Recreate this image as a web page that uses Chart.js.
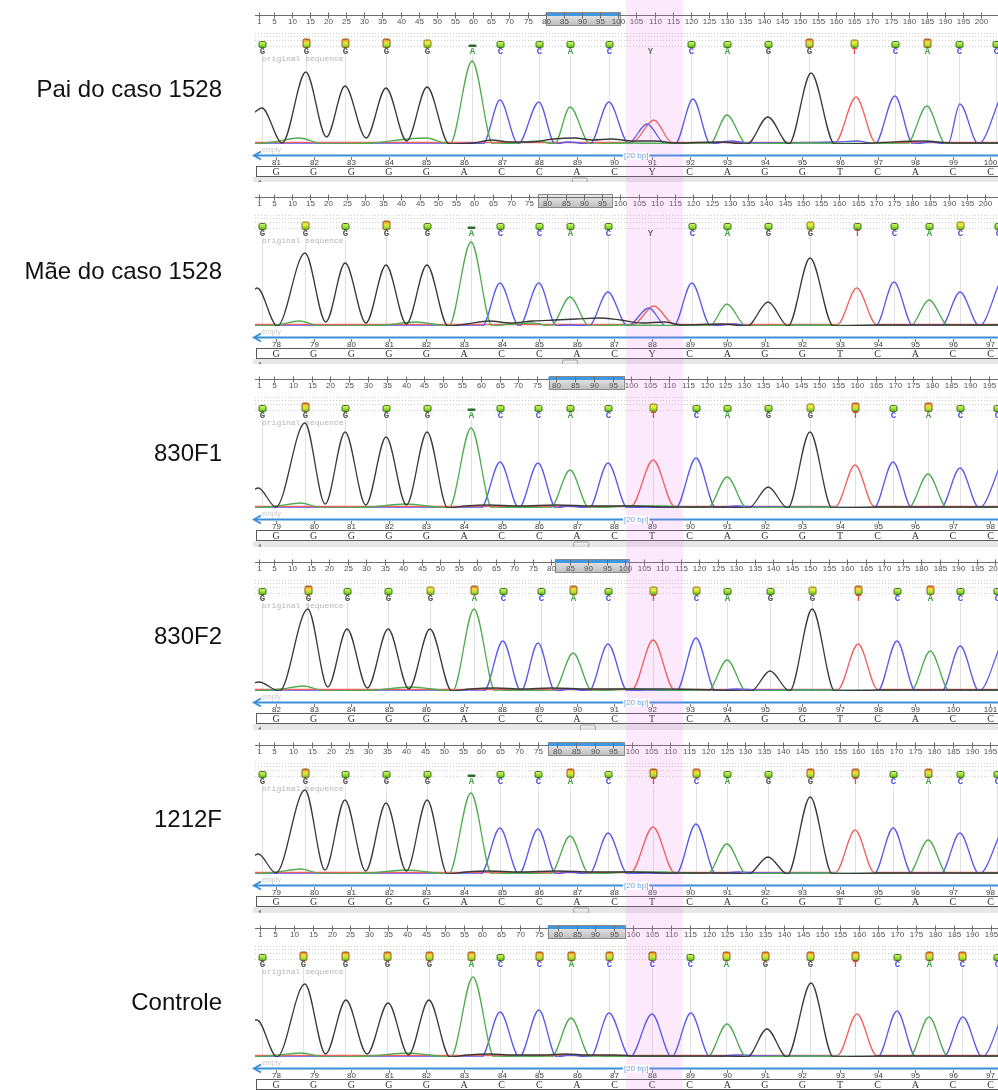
<!DOCTYPE html>
<html>
<head>
<meta charset="utf-8">
<script src="https://cdn.jsdelivr.net/npm/chart.js@4/dist/chart.umd.min.js"></script>
<style>
html,body{margin:0;padding:0;background:#fff;width:998px;height:1090px;overflow:hidden;}
.panel{position:absolute;left:0;width:998px;}
.panel canvas{position:absolute;left:0;top:0;}
.name{position:absolute;right:776px;top:89px;font:24px "Liberation Sans",Arial,sans-serif;color:#111;white-space:nowrap;transform:translateY(-50%);}
</style>
</head>
<body>
<div id="root"></div>
<script>
// ---- samples ----
const sampleNames = ['Pai do caso 1528', 'Mãe do caso 1528', '830F1', '830F2', '1212F', 'Controle'];

// base calls shown above the traces and in the aligned row below
const baseCalls = [
  'GGGGGACCACYCAGGTCACC',
  'GGGGGACCACYCAGGTCACC',
  'GGGGGACCACTCAGGTCACC',
  'GGGGGACCACTCAGGTCACC',
  'GGGGGACCACTCAGGTCACC',
  'GGGGGACCACCCAGGTCACC'
];

// trace position (ruler units) of each call
const callPos = [
  [1.8, 13.9, 24.7, 36.0, 47.3, 59.7, 67.4, 78.1, 86.7, 97.4, 108.7, 120.0, 129.9, 141.2, 152.5, 164.9, 176.2, 185.0, 193.8, 204.0],
  [1.8, 13.6, 24.6, 35.8, 47.0, 59.1, 67.0, 77.7, 86.2, 96.6, 108.1, 119.6, 129.2, 140.5, 152.0, 164.8, 175.0, 184.6, 193.1, 203.5],
  [1.8, 13.2, 23.9, 34.8, 45.7, 57.4, 65.1, 75.2, 83.7, 93.8, 105.8, 117.2, 125.5, 136.4, 147.5, 159.5, 169.6, 178.9, 187.4, 197.3],
  [1.8, 14.2, 24.8, 35.9, 47.2, 59.1, 66.9, 77.2, 85.9, 95.3, 107.5, 119.1, 127.5, 139.1, 150.5, 162.9, 173.4, 182.4, 190.5, 200.5],
  [1.8, 13.2, 23.8, 34.7, 45.6, 57.2, 64.9, 75.0, 83.5, 93.6, 105.5, 116.9, 125.1, 136.0, 147.2, 159.1, 169.2, 178.5, 186.9, 196.8],
  [1.5, 12.4, 23.5, 34.7, 45.8, 56.9, 64.7, 75.0, 83.5, 93.6, 105.0, 115.1, 124.6, 134.9, 146.9, 158.8, 170.0, 178.5, 187.2, 196.5]
];

// quality class of each call (0 none, 1 low, 2 medium, 3 good, 4 high)
const callQuality = [
  [2, 4, 4, 4, 3, 1, 2, 2, 2, 2, 0, 2, 2, 2, 4, 3, 2, 4, 2, 2],
  [2, 3, 2, 4, 2, 1, 2, 2, 2, 2, 0, 2, 2, 2, 3, 2, 2, 2, 3, 2],
  [2, 4, 2, 2, 2, 1, 2, 2, 2, 2, 3, 2, 2, 2, 3, 4, 2, 4, 2, 2],
  [2, 4, 2, 2, 3, 4, 2, 2, 4, 2, 3, 3, 2, 2, 3, 4, 2, 4, 2, 2],
  [2, 4, 2, 2, 2, 1, 2, 2, 4, 2, 4, 4, 2, 2, 4, 4, 2, 4, 2, 2],
  [2, 4, 4, 4, 4, 4, 2, 4, 4, 4, 4, 2, 4, 4, 4, 4, 2, 4, 4, 2]
];

// numbering of the aligned row
const firstBaseNumber = [81, 78, 79, 82, 79, 78];

// ruler
const rulerLabels = [1, 5, 10, 15, 20, 25, 30, 35, 40, 45, 50, 55, 60, 65, 70, 75, 80, 85, 90, 95, 100,
  105, 110, 115, 120, 125, 130, 135, 140, 145, 150, 155, 160, 165, 170, 175, 180, 185, 190, 195, 200];
const rulerView = [[-0.1, 204.6], [-0.1, 203.5], [-0.06, 197.5], [-0.08, 200.7], [-0.06, 197.0], [-0.33, 196.8]];
const rulerWindow = [[80, 100.5], [77.5, 97.7], [78, 98], [81, 101], [77.7, 97.8], [77.4, 97.8]];
const rulerWindowActive = [true, false, true, true, true, true];
const highlightRange = [[102.1, 117.8], [101.5, 117.2], [98.6, 113.8], [100.2, 115.6], [98.3, 113.4], [98.0, 113.1]];
const showSpanLabel = [true, false, true, true, true, true];
const scrollThumb = [0.437, 0.424, 0.439, 0.448, 0.439, 0.437];

// ---- trace signal: [position, intensity] per channel, per sample ----
const traceG = [
  [[-0.5,31],[1.8,36],[7.4,1],[13.9,72],[19.6,7],[24.7,58],[30.5,6],[36.0,56],[41.7,3],[47.3,57],[53.4,0],[60,1],[65,4],[70,2],[76,2],[82,5],[88,6],[93,4],[98,5],[104,3],[110,3],[116,1],[128,2],[135.5,0],[141.2,27],[147,0],[153.1,71],[159.6,0],[170,1],[184,3],[192,1],[205,1]],
  [[-0.5,36],[0.5,38],[6,0],[13.6,73],[19.3,4],[24.6,63],[30.3,3],[35.8,61],[41.4,2],[47.0,61],[52.8,0],[58,2],[64,5],[70,3],[76,5],[82,6],[88,7],[94,8],[100,6],[106,3],[112,4],[117,1],[128,2],[134.8,0],[140.5,24],[146,0],[152.0,68],[158.4,0],[170,1],[205,1]],
  [[-0.5,18],[0.8,20],[5.5,1],[13.2,85],[18.6,4],[23.9,76],[29.4,3],[34.8,71],[40.2,3],[45.7,76],[51.2,0],[56,2],[62,3],[70,2],[80,3],[90,2],[100,2],[110,1],[125,1],[131.2,0],[136.4,21],[141.6,0],[147.5,76],[153.4,0],[165,1],[198,1]],
  [[-0.5,8],[1,9],[6.5,0],[14.2,82],[19.6,4],[24.8,62],[30.3,3],[35.9,62],[41.5,2],[47.2,62],[53.1,0],[58,2],[65,3],[72,2],[80,3],[90,2],[100,2],[110,2],[125,1],[134,0],[139.1,20],[144.4,0],[150.5,82],[156.6,0],[168,1],[201,1]],
  [[-0.5,18],[0.8,20],[5.5,1],[13.2,84],[18.5,4],[23.8,74],[29.3,3],[34.7,71],[40.1,3],[45.6,74],[51,0],[56,2],[62,3],[70,2],[80,3],[90,2],[100,2],[110,1],[125,1],[130.8,0],[136.0,17],[141.2,0],[147.2,77],[153.1,0],[165,1],[198,1]],
  [[-0.5,37],[0.2,37],[5.5,0],[12.9,73],[18.4,3],[23.8,57],[29.4,3],[35.0,54],[40.4,2],[45.8,57],[51.4,0],[56,2],[62,3],[68,2],[76,2],[82,3],[88,2],[95,2],[101,1],[110,1],[125,1],[130.3,0],[135.5,28],[140.8,0],[147.2,74],[153.1,0],[165,1],[198,1]]
];
const traceA = [
  [[-0.5,0],[5,2],[12,6],[19,0],[32,1],[42,5],[47,6],[53.6,0],[59.7,83],[65.5,0],[72,1],[78,3],[82.4,0],[86.7,37],[92.2,0],[103,1],[125.2,0],[129.9,29],[135.4,0],[150,1],[179.5,0],[185.0,38],[190.2,0],[205,1]],
  [[-0.5,0],[6,1],[12,5],[18,0],[35,1],[44,4],[53,0],[59.1,84],[64.9,0],[70,2],[76,3],[81,0],[86.2,29],[91.5,0],[100,1],[124.5,0],[129.2,22],[134.5,0],[150,1],[179.5,0],[184.6,26],[190,0],[205,1]],
  [[-0.5,0],[6,2],[12,5],[18,0],[30,1],[40,4],[51.5,0],[57.4,80],[63,0],[70,1],[78.5,0],[83.7,38],[88.8,0],[100,2],[108,2],[115,1],[120.3,0],[125.5,31],[130.7,0],[145,1],[173.7,0],[178.9,34],[184,0],[198,1]],
  [[-0.5,0],[7,2],[13,5],[19,0],[32,1],[42,4],[53.3,0],[59.1,82],[64.9,0],[72,1],[80.6,0],[85.9,38],[91,0],[102,2],[110,1],[122.3,0],[127.5,31],[132.7,0],[148,1],[177.2,0],[182.4,40],[187.6,0],[201,1]],
  [[-0.5,0],[6,2],[12,5],[18,0],[30,1],[40,4],[51.3,0],[57.2,81],[62.8,0],[70,1],[78.3,0],[83.5,38],[88.6,0],[100,2],[108,2],[115,1],[119.9,0],[125.1,30],[130.3,0],[145,1],[173.3,0],[178.5,34],[183.6,0],[198,1]],
  [[-0.5,0],[6,2],[12,4],[18,0],[30,1],[40,4],[51.6,0],[57.5,80],[63.2,0],[70,1],[78.3,0],[83.5,39],[88.7,0],[100,1],[119.7,0],[124.9,33],[130.1,0],[145,1],[173.3,0],[178.5,40],[183.6,0],[198,1]]
];
const traceC = [
  [[-0.5,0],[55,0],[59,1],[62.7,0],[67.4,44],[72.4,0],[78.1,42],[82.6,0],[86,2],[92.2,0],[97.4,42],[102.8,1],[107.9,20],[113,0],[115.6,0],[120.6,45],[125.4,0],[131,3],[136,1],[160,2],[166,3],[170.7,0],[176.2,48],[181.2,0],[186,2],[190.8,0],[194.1,40],[199.2,0],[205.2,46]],
  [[-0.5,0],[56,0],[62.2,0],[67.0,43],[72.3,0],[77.7,43],[82.5,0],[86,1],[91.4,0],[96.6,34],[102,0],[107.8,18],[112.6,0],[114.6,0],[119.6,43],[124.8,0],[131,2],[136,0],[170,0],[175.0,44],[180.2,0],[188,0],[193.1,34],[198.4,0],[203.8,42]],
  [[-0.5,0],[55,0],[60,0],[65.1,46],[70.1,0],[75.2,45],[80,0],[83,2],[88.8,0],[93.8,45],[99,0],[104,1],[111.8,0],[117.2,50],[122.5,0],[128,2],[134,1],[150,1],[164.5,0],[169.6,46],[174.6,0],[182.3,0],[187.4,40],[192.5,0],[198.5,46]],
  [[-0.5,0],[57,0],[61.8,0],[66.9,50],[71.8,0],[76.4,48],[81,0],[85,2],[90.2,0],[95.3,47],[100.6,0],[106,1],[113.8,0],[119.1,53],[124.4,0],[130,2],[136,1],[155,1],[168.2,0],[173.4,50],[178.4,0],[185.5,0],[190.5,45],[195.6,0],[201.5,47]],
  [[-0.5,0],[55,0],[59.8,0],[64.9,46],[69.9,0],[75.0,45],[79.8,0],[83,2],[88.6,0],[93.6,41],[98.8,0],[104,1],[111.6,0],[116.9,50],[122.2,0],[128,2],[134,1],[150,1],[164.1,0],[169.2,46],[174.2,0],[181.8,0],[186.9,41],[192,0],[198,44]],
  [[-0.5,0],[55,0],[59.7,0],[64.7,45],[69.8,0],[75.0,47],[79.7,0],[83,2],[88.7,0],[93.6,44],[99.2,0],[105.0,43],[110.2,0],[115.3,44],[120.4,0],[128,2],[134,1],[150,1],[164.9,0],[170.0,46],[175.0,0],[182.4,0],[187.5,40],[192.6,0],[198,42]]
];
const traceT = [
  [[-0.5,1.5],[103.8,1.5],[109.8,24],[114.8,1.5],[159.7,1.5],[165.5,47],[170.9,1.5],[205,1.5]],
  [[-0.5,1.5],[103.5,1.5],[109.2,20],[114.8,1.5],[159.5,1.5],[164.8,38],[170.2,1.5],[205,1.5]],
  [[-0.5,1.5],[99.9,1.5],[105.8,48],[111.5,1.5],[154.3,1.5],[159.5,43],[164.6,1.5],[198,1.5]],
  [[-0.5,1.5],[101.8,1.5],[107.5,51],[113.2,1.5],[157.4,1.5],[162.9,47],[168.2,1.5],[201,1.5]],
  [[-0.5,1.5],[99.6,1.5],[105.5,47],[111.2,1.5],[153.9,1.5],[159.1,44],[164.2,1.5],[198,1.5]],
  [[-0.5,1.5],[154.2,1.5],[159.4,43],[164.6,1.5],[198,1.5]]
];

// ---- appearance ----
const channelColor = { G: '#3a3a3a', A: '#4fac4f', C: '#5b5bea', T: '#f06262' };
const letterColor = { G: '#4a4a4a', A: '#3f9f3f', C: '#4b4be0', T: '#e84848', Y: '#6a6a6a' };
const panelTop = [0, 182, 364, 547, 730, 913];
const panelHeight = [182, 182, 183, 183, 183, 177];
const ROW = { ruler: 15.5, base: 144, arrow: 155.5, num: 163, box: 166.5, scroll: 176.5 };

function roundRect(ctx, x, y, w, h, r) {
  ctx.beginPath();
  ctx.moveTo(x + r, y);
  ctx.lineTo(x + w - r, y); ctx.quadraticCurveTo(x + w, y, x + w, y + r);
  ctx.lineTo(x + w, y + h - r); ctx.quadraticCurveTo(x + w, y + h, x + w - r, y + h);
  ctx.lineTo(x + r, y + h); ctx.quadraticCurveTo(x, y + h, x, y + h - r);
  ctx.lineTo(x, y + r); ctx.quadraticCurveTo(x, y, x + r, y);
  ctx.closePath();
}

function drawQualityMark(ctx, cx, q) {
  if (q === 0) return;
  if (q === 1) {
    ctx.fillStyle = '#2e6a2a';
    roundRect(ctx, cx - 4, 44.5, 8, 2.5, 1); ctx.fill();
    return;
  }
  const top = q === 2 ? 41.5 : (q === 3 ? 40 : 39);
  const bot = 47.5;
  const g = ctx.createLinearGradient(0, top, 0, bot);
  if (q === 2) { g.addColorStop(0, '#d4f870'); g.addColorStop(0.5, '#a6e23c'); g.addColorStop(1, '#52b418'); }
  else if (q === 3) { g.addColorStop(0, '#f2d23a'); g.addColorStop(0.45, '#e2f040'); g.addColorStop(1, '#52b418'); }
  else { g.addColorStop(0, '#e4642a'); g.addColorStop(0.35, '#f4dc34'); g.addColorStop(0.7, '#b2e83a'); g.addColorStop(1, '#52b418'); }
  roundRect(ctx, cx - 3.5, top, 7, bot - top, 1.5);
  ctx.fillStyle = g; ctx.fill();
  ctx.lineWidth = 1;
  ctx.strokeStyle = q === 4 ? '#8e5420' : (q === 3 ? '#7a7a20' : '#3c7418');
  ctx.stroke();
}

const chromPlugin = {
  id: 'chrom',
  beforeDatasetsDraw(chart) {
    const p = chart.options.plugins.chrom.panel;
    const ctx = chart.ctx, xs = chart.scales.x, bs = chart.scales.b, ys = chart.scales.y;
    const L = chart.chartArea.left, R = chart.chartArea.right;
    const base = ys.getPixelForValue(0);
    ctx.save();

    // ruler window
    const wx0 = xs.getPixelForValue(rulerWindow[p][0]);
    const wx1 = xs.getPixelForValue(rulerWindow[p][1]);
    let g = ctx.createLinearGradient(0, 12, 0, 26);
    g.addColorStop(0, '#eeeeee'); g.addColorStop(1, '#bcbcbc');
    ctx.fillStyle = g;
    ctx.fillRect(wx0, 12.5, wx1 - wx0, 13);
    ctx.strokeStyle = '#8a8a8a'; ctx.lineWidth = 1;
    ctx.strokeRect(Math.round(wx0) + 0.5, 12.5, Math.round(wx1 - wx0), 13);

    // ruler line and ticks
    ctx.strokeStyle = '#6c6c6c';
    ctx.beginPath(); ctx.moveTo(L, ROW.ruler); ctx.lineTo(R, ROW.ruler); ctx.stroke();
    if (rulerWindowActive[p]) {
      ctx.strokeStyle = '#4198e2'; ctx.lineWidth = 3; ctx.lineCap = 'round';
      ctx.beginPath(); ctx.moveTo(wx0 + 1, 14.5); ctx.lineTo(wx1 - 1, 14.5); ctx.stroke();
      ctx.lineCap = 'butt'; ctx.lineWidth = 1;
    }
    ctx.strokeStyle = '#6c6c6c';
    ctx.font = '8px "Liberation Sans", Arial, sans-serif';
    ctx.textAlign = 'center'; ctx.textBaseline = 'middle'; ctx.fillStyle = '#505050';
    rulerLabels.forEach(v => {
      if (v < xs.min || v > xs.max) return;
      const px = Math.round(xs.getPixelForValue(v)) + 0.5;
      ctx.beginPath(); ctx.moveTo(px, 12.5); ctx.lineTo(px, 18.5); ctx.stroke();
      ctx.fillText(String(v), px, 22);
    });

    // quality track guides
    ctx.strokeStyle = '#cfcfcf'; ctx.setLineDash([1, 2]);
    [33.5, 36.5, 40.5, 46.5].forEach(yy => {
      ctx.beginPath(); ctx.moveTo(L, yy); ctx.lineTo(R, yy); ctx.stroke();
    });
    ctx.setLineDash([]);

    // call guide lines
    ctx.strokeStyle = '#e0e0e0';
    callPos[p].forEach(v => {
      const px = Math.round(xs.getPixelForValue(v)) + 0.5;
      ctx.beginPath(); ctx.moveTo(px, 55); ctx.lineTo(px, base); ctx.stroke();
    });

    ctx.textAlign = 'left';
    ctx.fillStyle = '#b4b4b4';
    ctx.font = '8px "Liberation Mono", monospace';
    ctx.fillText('original sequence', L + 7, 58.5);
    ctx.fillStyle = '#c8c8c8';
    ctx.font = '7px "Liberation Sans", Arial, sans-serif';
    ctx.fillText('empty', L + 7, 150);

    // span arrow
    ctx.strokeStyle = '#3a8fdc'; ctx.lineWidth = 2;
    ctx.beginPath(); ctx.moveTo(L, ROW.arrow); ctx.lineTo(R, ROW.arrow); ctx.stroke();
    ctx.beginPath(); ctx.moveTo(L + 6, ROW.arrow - 4); ctx.lineTo(L - 1, ROW.arrow); ctx.lineTo(L + 6, ROW.arrow + 4); ctx.stroke();
    ctx.lineWidth = 1;

    // aligned numbering
    const n0 = firstBaseNumber[p];
    const letters = baseCalls[p];
    ctx.strokeStyle = '#7a7a7a';
    ctx.fillStyle = '#404040';
    ctx.textAlign = 'center';
    ctx.font = '8px "Liberation Sans", Arial, sans-serif';
    for (let i = 0; i < letters.length; i++) {
      const px = Math.round(bs.getPixelForValue(n0 + i)) + 0.5;
      if (px > R + 4) continue;
      ctx.beginPath(); ctx.moveTo(px, 157); ctx.lineTo(px, 160); ctx.stroke();
      ctx.fillText(String(n0 + i), px, ROW.num);
    }
    // aligned letters row
    ctx.strokeStyle = '#5a5a5a';
    ctx.strokeRect(L + 1.5, ROW.box, R - L + 4, 10);
    ctx.fillStyle = '#333';
    ctx.font = '10px "Liberation Serif", "DejaVu Serif", serif';
    for (let i = 0; i < letters.length; i++) {
      const px = bs.getPixelForValue(n0 + i);
      ctx.fillText(letters[i], px, ROW.box + 5.5);
    }

    // scroll bar
    ctx.fillStyle = '#e7e7e7';
    ctx.fillRect(L - 2, ROW.scroll + 0.5, R - L + 2, 9);
    ctx.fillStyle = '#8a8a8a';
    ctx.beginPath(); ctx.moveTo(L + 3, 181.5); ctx.lineTo(L + 6, 179.5); ctx.lineTo(L + 6, 183.5); ctx.closePath(); ctx.fill();
    const tx = L + scrollThumb[p] * (R - L);
    g = ctx.createLinearGradient(0, 178, 0, 185);
    g.addColorStop(0, '#f6f6f6'); g.addColorStop(1, '#c9c9c9');
    roundRect(ctx, tx - 7.5, 178, 15, 6.5, 1.5);
    ctx.fillStyle = g; ctx.fill();
    ctx.strokeStyle = '#a0a0a0'; ctx.stroke();

    // highlighted variant column
    const hx0 = xs.getPixelForValue(highlightRange[p][0]);
    const hx1 = xs.getPixelForValue(highlightRange[p][1]);
    ctx.fillStyle = 'rgba(236,120,236,0.16)';
    ctx.fillRect(hx0, 0, hx1 - hx0, chart.height);

    ctx.restore();
  },
  afterDatasetsDraw(chart) {
    const p = chart.options.plugins.chrom.panel;
    const ctx = chart.ctx, xs = chart.scales.x;
    const L = chart.chartArea.left, R = chart.chartArea.right;
    ctx.save();
    const letters = baseCalls[p];
    ctx.textAlign = 'center'; ctx.textBaseline = 'middle';
    ctx.font = 'bold 9px "Liberation Mono", "DejaVu Sans Mono", monospace';
    callPos[p].forEach((v, i) => {
      const px = Math.round(xs.getPixelForValue(v)) + 0.5;
      drawQualityMark(ctx, px, callQuality[p][i]);
      ctx.fillStyle = letterColor[letters[i]];
      ctx.fillText(letters[i], px, 52);
    });
    if (showSpanLabel[p]) {
      const cx = L + 0.513 * (R - L);
      ctx.font = '8px "Liberation Sans", Arial, sans-serif';
      const w = ctx.measureText('[20 bp]').width;
      ctx.fillStyle = '#fff';
      ctx.fillRect(cx - w / 2 - 1, ROW.arrow - 4, w + 2, 8);
      ctx.fillStyle = '#6e9fe6';
      ctx.fillText('[20 bp]', cx, ROW.arrow);
    }
    ctx.restore();
  }
};

const root = document.getElementById('root');
sampleNames.forEach((name, p) => {
  const div = document.createElement('div');
  div.className = 'panel';
  div.style.top = panelTop[p] + 'px';
  div.style.height = panelHeight[p] + 'px';
  const cv = document.createElement('canvas');
  cv.width = 998; cv.height = panelHeight[p];
  cv.style.width = '998px'; cv.style.height = panelHeight[p] + 'px';
  div.appendChild(cv);
  const label = document.createElement('div');
  label.className = 'name';
  label.textContent = name;
  div.appendChild(label);
  root.appendChild(div);

  const series = [['G', traceG], ['A', traceA], ['C', traceC], ['T', traceT]];
  new Chart(cv, {
    type: 'line',
    data: {
      datasets: series.map(([ch, arr]) => ({
        label: ch,
        data: arr[p],
        xAxisID: 'x',
        yAxisID: 'y',
        borderColor: channelColor[ch],
        borderWidth: 1.3,
        pointRadius: 0,
        fill: false,
        cubicInterpolationMode: 'monotone'
      }))
    },
    options: {
      responsive: false,
      animation: false,
      events: [],
      layout: { padding: { left: 255, right: 0, top: 44, bottom: panelHeight[p] - 144 } },
      scales: {
        x: { type: 'linear', min: rulerView[p][0], max: rulerView[p][1], display: false },
        b: { type: 'linear', axis: 'x', min: firstBaseNumber[p] - 0.56, max: firstBaseNumber[p] + 19.2, display: false },
        y: { type: 'linear', min: 0, max: 100, display: false }
      },
      plugins: { legend: { display: false }, tooltip: { enabled: false }, chrom: { panel: p } }
    },
    plugins: [chromPlugin]
  });
});
</script>
</body>
</html>
